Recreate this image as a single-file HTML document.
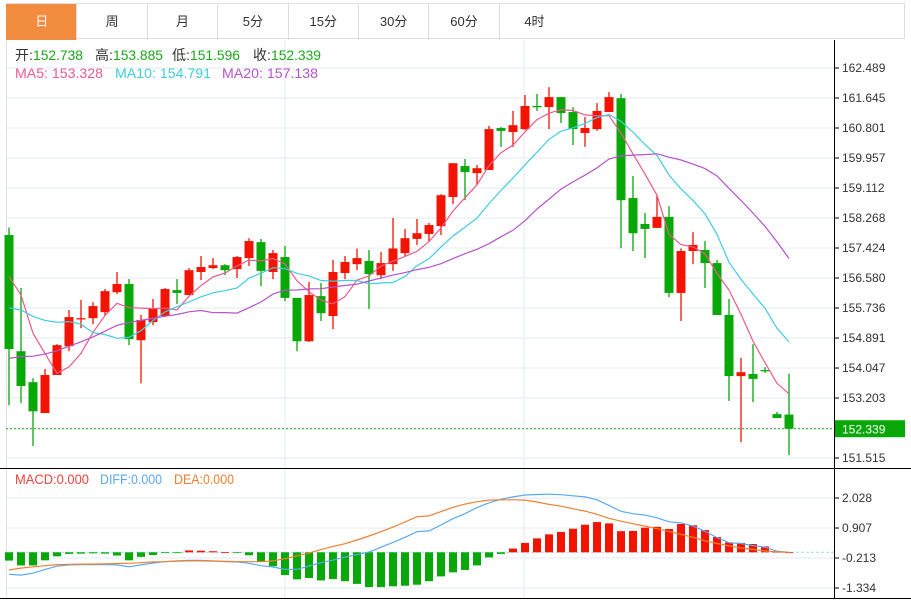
<!DOCTYPE html>
<html><head><meta charset="utf-8">
<style>
html,body{margin:0;padding:0;background:#fff;width:911px;height:600px;overflow:hidden;font-family:"Liberation Sans","Noto Sans CJK SC",sans-serif;}
#tabs{position:absolute;left:6px;top:3px;height:36px;width:899px;border:1px solid #ddd;border-left:none;box-sizing:border-box;display:flex;}
.tab{width:70.4px;height:36px;border-left:1px solid #ddd;box-sizing:border-box;text-align:center;line-height:36px;font-size:13px;color:#333;}
.tab.on{background:#f28c3e;color:#fff;border-left:1px solid #f28c3e}
svg{position:absolute;left:0;top:0}
</style></head><body>
<div id="tabs">
<div class="tab on">日</div>
<div class="tab">周</div>
<div class="tab">月</div>
<div class="tab">5分</div>
<div class="tab">15分</div>
<div class="tab">30分</div>
<div class="tab">60分</div>
<div class="tab">4时</div>
</div>
<svg id="c" width="911" height="600"></svg>
<script>
const opens=[157.79,154.52,153.65,152.78,153.85,154.66,155.42,155.45,155.62,156.18,156.41,154.83,155.34,155.51,156.24,156.10,156.75,156.86,156.94,156.83,157.14,157.59,156.75,157.17,156.02,154.80,156.07,155.51,156.72,156.97,157.06,156.66,156.97,157.28,157.68,157.82,158.04,158.86,159.73,159.53,159.62,160.80,160.69,160.77,161.42,161.39,161.67,161.25,160.66,160.77,161.25,161.64,158.83,158.10,157.99,158.30,156.16,157.34,157.37,157.00,155.54,153.82,153.88,153.99,152.75,152.738];
const closes=[154.58,153.54,152.83,153.85,154.69,155.48,155.45,155.79,156.21,156.41,154.86,155.40,155.71,156.27,156.16,156.80,156.89,156.94,156.80,157.17,157.62,156.78,157.28,156.02,154.80,156.10,155.59,156.75,157.03,157.14,156.69,157.00,157.41,157.70,157.84,158.07,158.91,159.81,159.56,159.67,160.77,160.72,160.88,161.42,161.39,161.67,161.22,160.77,160.80,161.28,161.67,158.77,157.84,157.96,158.30,156.16,157.34,157.51,157.00,155.54,153.82,153.93,153.74,153.96,152.64,152.339];
const highs=[158.00,156.30,153.76,154.02,154.72,155.68,155.96,155.90,156.27,156.75,156.55,155.54,155.99,156.30,156.55,156.86,157.20,157.14,156.97,157.20,157.70,157.68,157.37,157.48,156.02,156.47,156.44,157.09,157.20,157.41,157.37,157.31,158.27,157.96,158.24,158.13,158.94,159.81,159.93,159.76,160.86,160.83,161.28,161.73,161.76,161.95,161.67,161.39,161.11,161.50,161.81,161.76,159.45,158.41,158.91,158.60,157.41,157.87,157.62,157.09,155.99,154.33,154.72,154.07,152.81,153.885];
const lows=[153.00,153.06,151.85,152.78,153.85,154.52,155.17,155.28,155.51,156.13,154.69,153.62,155.25,155.48,155.85,156.10,156.52,156.83,156.66,156.58,156.92,156.35,156.55,155.93,154.52,154.78,155.37,155.14,156.55,156.80,155.71,156.55,156.78,157.20,157.51,157.62,157.79,158.66,158.77,159.20,159.62,160.27,160.27,160.74,161.28,160.77,160.94,160.32,160.27,160.72,161.25,157.42,157.34,157.14,157.99,156.04,155.37,156.97,156.30,155.54,153.12,151.96,153.09,153.91,152.64,151.596];
const priorCloses=[152.5,152.6,152.7,152.8,152.9,153.0,153.0,153.0,153.1,153.3,154.2,154.6,155.0,155.2,155.3,156.19,158.18,156.70,157.49];
const priceTicks=[162.489,161.645,160.801,159.957,159.112,158.268,157.424,156.580,155.736,154.891,154.047,153.203,152.359,151.515];
const macdHist=[-0.31,-0.49,-0.49,-0.30,-0.15,-0.06,-0.05,-0.04,-0.05,-0.12,-0.30,-0.17,-0.10,-0.02,-0.02,0.07,0.06,0.04,0.01,-0.02,-0.11,-0.35,-0.52,-0.85,-1.01,-0.96,-1.05,-1.00,-1.08,-1.18,-1.30,-1.30,-1.27,-1.25,-1.21,-1.08,-0.90,-0.75,-0.66,-0.49,-0.19,-0.06,0.14,0.35,0.52,0.67,0.76,0.88,1.03,1.13,1.08,0.79,0.80,0.92,0.95,0.87,1.06,1.01,0.83,0.57,0.37,0.35,0.31,0.22,0.02,0.00];
const diffVals=[-0.82,-0.85,-0.78,-0.64,-0.52,-0.47,-0.46,-0.46,-0.46,-0.47,-0.54,-0.47,-0.40,-0.35,-0.32,-0.30,-0.30,-0.32,-0.35,-0.36,-0.41,-0.50,-0.55,-0.64,-0.64,-0.51,-0.39,-0.29,-0.18,-0.09,0.01,0.19,0.37,0.56,0.77,0.80,1.02,1.26,1.44,1.67,1.85,1.98,2.07,2.14,2.16,2.17,2.15,2.11,2.07,1.96,1.75,1.53,1.44,1.39,1.29,1.14,1.10,0.98,0.78,0.55,0.36,0.33,0.25,0.19,0.04,0.00];
const deaVals=[-0.66,-0.59,-0.54,-0.50,-0.46,-0.45,-0.44,-0.44,-0.43,-0.42,-0.41,-0.39,-0.36,-0.35,-0.33,-0.32,-0.32,-0.33,-0.34,-0.35,-0.35,-0.35,-0.32,-0.24,-0.13,-0.03,0.10,0.22,0.32,0.46,0.61,0.77,0.94,1.13,1.33,1.36,1.52,1.68,1.80,1.89,1.95,1.96,1.96,1.95,1.88,1.79,1.72,1.63,1.54,1.42,1.27,1.16,1.07,0.98,0.88,0.78,0.67,0.56,0.43,0.33,0.24,0.16,0.11,0.05,0.02,0.00];
const macdTicks=[2.028,0.907,-0.213,-1.334];

const NS='http://www.w3.org/2000/svg';
const svg=document.getElementById('c');
function el(t,a,p){const e=document.createElementNS(NS,t);for(const k in a)e.setAttribute(k,a[k]);(p||svg).appendChild(e);return e;}
const xOf=i=>9+12*i;
const yP=p=>68+(162.489-p)*35.54;
const yM=v=>552.3-v/0.03735;
const RED='#f21400',GRN='#08a808';

let g=el('g',{});


priceTicks.forEach(t=>{el('line',{x1:6,x2:834,y1:yP(t),y2:yP(t),stroke:'#e3ebf1','stroke-width':1},g);});
macdTicks.forEach(t=>{el('line',{x1:6,x2:834,y1:yM(t),y2:yM(t),stroke:'#e3ebf1','stroke-width':1},g);});
[285,524].forEach(x=>el('line',{x1:x,x2:x,y1:40,y2:598,stroke:'#e3ebf1'},g));
el('line',{x1:6.5,x2:6.5,y1:40,y2:598,stroke:'#dde3e8'},g);
el('line',{x1:0,x2:911,y1:468.5,y2:468.5,stroke:'#000'},g);
el('line',{x1:0,x2:911,y1:598.5,y2:598.5,stroke:'#000'},g);
el('line',{x1:834.5,x2:834.5,y1:40,y2:598,stroke:'#000'},g);

let ax=el('g',{'font-size':12,fill:'#333'});


priceTicks.forEach(t=>{const y=yP(t);el('line',{x1:834,x2:839,y1:y,y2:y,stroke:'#000'},ax);const tx=el('text',{x:842,y:y+4},ax);tx.textContent=t.toFixed(3);});
let ax2=el('g',{'font-size':12,fill:'#333'});


macdTicks.forEach(t=>{const y=yM(t);el('line',{x1:834,x2:839,y1:y,y2:y,stroke:'#000'},ax2);const tx=el('text',{x:842,y:y+4},ax2);tx.textContent=t.toFixed(3);});

let cg=el('g',{});


closes.forEach((c,i)=>{
  const o=opens[i],x=xOf(i),up=c>=o,col=up?RED:GRN;
  const cd=el('g',{},cg);
  
  
  el('line',{x1:x,x2:x,y1:yP(highs[i]),y2:yP(lows[i]),stroke:col,'stroke-width':1.3},cd);
  const t=yP(Math.max(o,c)),b=yP(Math.min(o,c));
  el('rect',{x:x-4.5,y:t,width:9,height:Math.max(1.3,b-t),fill:col},cd);
});

const all=priorCloses.concat(closes),off=priorCloses.length;
function ma(n){return closes.map((_,i)=>{let s=0;for(let k=0;k<n;k++)s+=all[off+i-k];return s/n;});}
[[5,'#ec5a8c','ma5-line'],[10,'#3fcde0','ma10-line'],[20,'#b553c9','ma20-line']].forEach(([n,col,name])=>{
  const v=ma(n);const d=v.map((p,i)=>(i?'L':'M')+xOf(i)+' '+yP(p).toFixed(1)).join(' ');
  const pl=el('path',{d:d,fill:'none',stroke:col,'stroke-width':1.2});
  
  
});

const lc=closes[closes.length-1];
const lp=el('line',{x1:6,x2:834,y1:yP(lc),y2:yP(lc),stroke:'#22aa22','stroke-dasharray':'2,2'});


const lb=el('g',{});


el('rect',{x:835,y:yP(lc)-8.5,width:70,height:17,fill:GRN},lb);
const lt=el('text',{x:842,y:yP(lc)+5,fill:'#fff','font-size':12},lb);lt.textContent=lc.toFixed(3);

const zg=el('line',{x1:6,x2:834,y1:yM(0),y2:yM(0),stroke:'#9fdcec','stroke-dasharray':'3,2'});


let mg=el('g',{});


macdHist.forEach((v,i)=>{const y0=yM(0),y1=yM(v);const r=el('rect',{x:xOf(i)-4,y:Math.min(y0,y1),width:8,height:Math.max(0.8,Math.abs(y1-y0)),fill:v>=0?RED:GRN},mg);
  
  });
[[diffVals,'#5aaaf0','diff-line'],[deaVals,'#f08030','dea-line']].forEach(([arr,col,name])=>{
  const d=arr.map((v,i)=>(i?'L':'M')+xOf(i)+' '+yM(v).toFixed(1)).join(' ');
  const pl=el('path',{d:d,fill:'none',stroke:col,'stroke-width':1.2});
  
  
});

function txt(parts,y,name){const t=el('text',{y:y,'font-size':14});
  parts.forEach(([s,c,x,len])=>{const ts=el('tspan',{fill:c},t);if(x!==undefined)ts.setAttribute('x',x);if(len){ts.setAttribute('textLength',len);ts.setAttribute('lengthAdjust','spacingAndGlyphs');}ts.textContent=s;});}
txt([['开:','#333',15],['152.738','#1aa81a',33,50],['高:','#333',95],['153.885','#1aa81a',113,50],['低:','#333',172],['151.596','#1aa81a',190,50],['收:','#333',253],['152.339','#1aa81a',271,50]],60,'ohlc-legend');
txt([['MA5: 153.328','#ec5a8c',15,88],['MA10: 154.791','#3fcde0',115,96],['MA20: 157.138','#b553c9',222,96]],78,'ma-legend');
txt([['MACD:0.000','#e8453c',15,74],['DIFF:0.000','#5aaaf0',100,62],['DEA:0.000','#f08030',174,60]],484,'macd-legend');
</script>
</body></html>
